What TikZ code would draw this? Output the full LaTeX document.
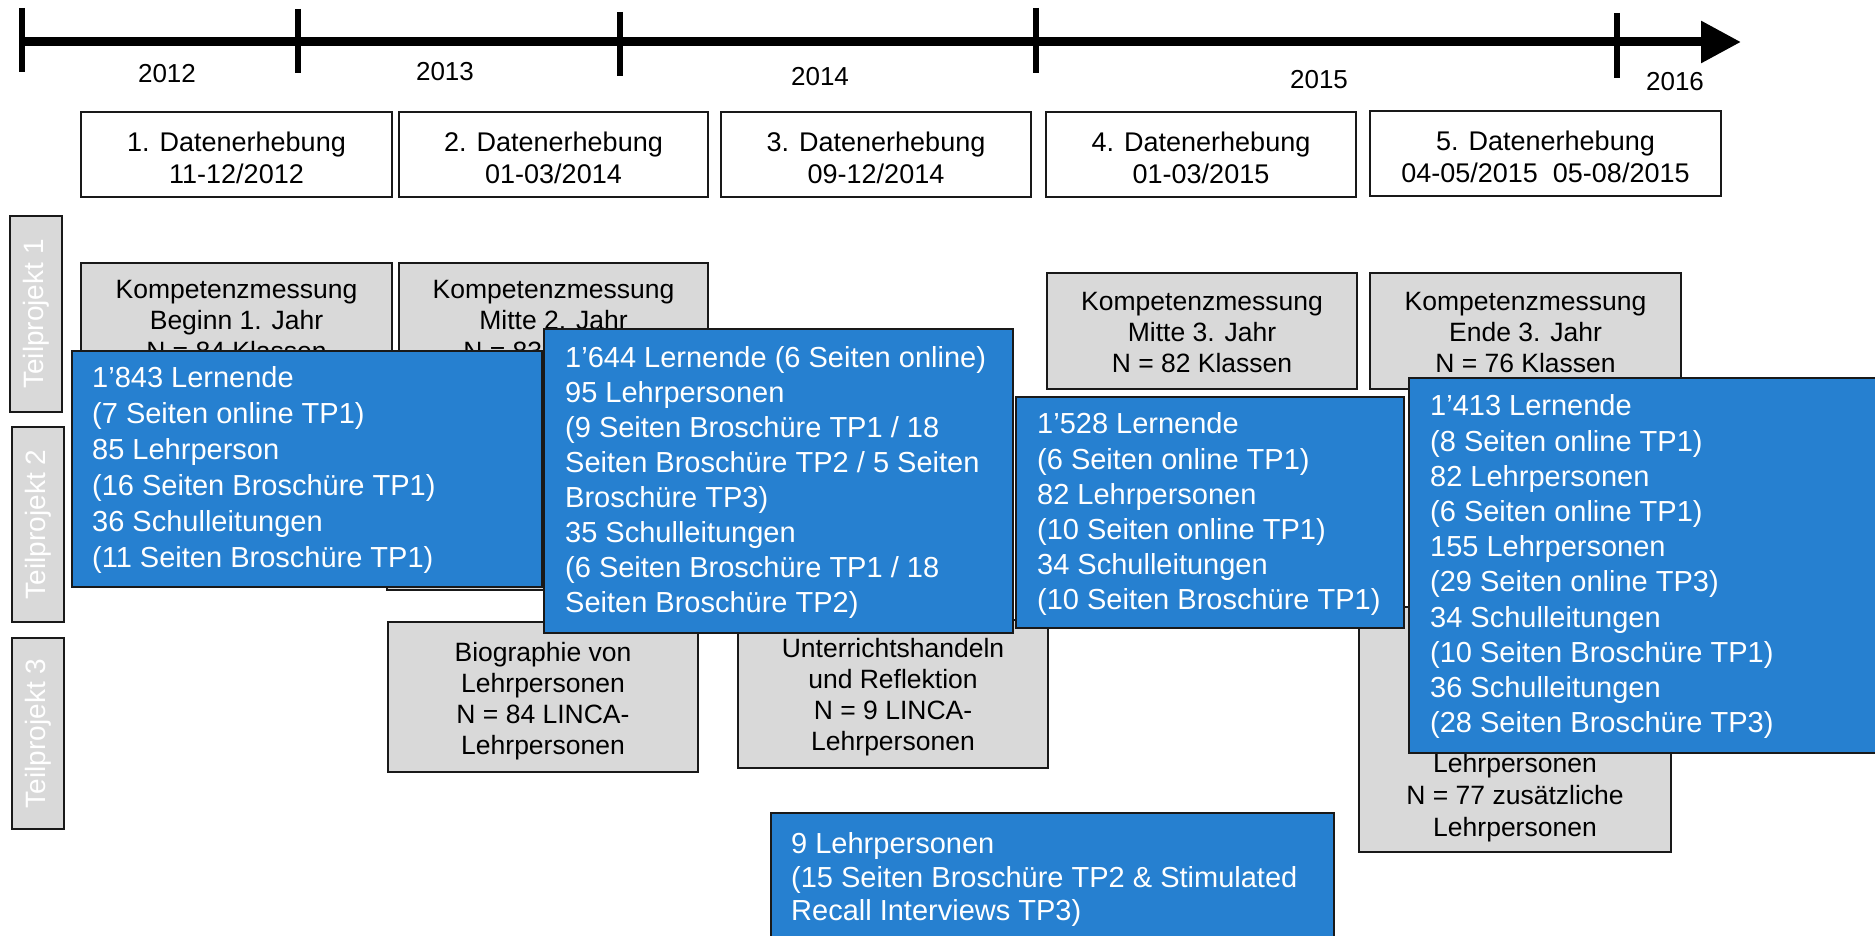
\documentclass[tikz,border=0pt]{standalone}
\usepackage{fontspec}
\setmainfont{Liberation Sans}
\usetikzlibrary{arrows.meta,fit}
\definecolor{boxblue}{RGB}{38,128,208}
\definecolor{boxgrey}{RGB}{217,217,217}
\definecolor{edgecol}{RGB}{25,25,25}
\begin{document}
\begin{tikzpicture}[x=1pt,y=-1pt,
  debox/.style={draw=edgecol, line width=2pt, fill=white, inner sep=0pt},
  greybox/.style={draw=edgecol, line width=2pt, fill=boxgrey, inner sep=0pt},
  tpbox/.style={draw=edgecol, line width=2.5pt, fill=boxgrey, inner sep=0pt},
  bluebox/.style={draw=edgecol, line width=2.5pt, fill=boxblue, inner sep=0pt},
  yeartxt/.style={font=\fontsize{26}{30}\selectfont, inner sep=0pt},
  detxt/.style={font=\fontsize{27}{32}\selectfont, align=center, inner sep=0pt, anchor=north},
  greytxt/.style={font=\fontsize{26.5}{31}\selectfont, align=center, inner sep=0pt, anchor=north},
  bluetxt/.style={font=\fontsize{29}{35}\selectfont, align=left, inner sep=0pt, anchor=north west, text=white},
  tptxt/.style={font=\fontsize{28}{32}\selectfont, inner sep=0pt, text=white, rotate=90},
  tick/.style={line width=6pt, draw=black}]
\useasboundingbox (0,0) rectangle (1875,936);
\clip (0,0) rectangle (1875,936);

% timeline
\coordinate (tl0) at (22,42);
\coordinate (tl1) at (1741,42);
\draw[line width=9pt, -{Triangle[length=40pt,width=40pt]}] (tl0) -- (tl1);
\draw[tick] (22,8) -- (22,72);
\draw[tick] (298,9) -- (298,73);
\draw[tick] (620,12) -- (620,76);
\draw[tick] (1036,8) -- (1036,73);
\draw[tick] (1617,13) -- (1617,78);

\node[yeartxt] (y2012) at (167,74) {2012};
\node[yeartxt] (y2013) at (445,72) {2013};
\node[yeartxt] (y2014) at (820,77) {2014};
\node[yeartxt] (y2015) at (1319,80) {2015};
\node[yeartxt] (y2016) at (1675,82) {2016};

% Datenerhebung boxes
\node[debox, fit={(81,112) (392,197)}] (de1) {};
\node[debox, fit={(399,112) (708,197)}] (de2) {};
\node[debox, fit={(721,112) (1031,197)}] (de3) {};
\node[debox, fit={(1046,112) (1356,197)}] (de4) {};
\node[debox, fit={(1370,111) (1721,196)}] (de5) {};
\node[detxt] (de1t) at (236.5,131.3) {1. Datenerhebung\\11-12/2012};
\node[detxt] (de2t) at (553.5,131.3) {2. Datenerhebung\\01-03/2014};
\node[detxt] (de3t) at (876,131.3) {3. Datenerhebung\\09-12/2014};
\node[detxt] (de4t) at (1201,131.3) {4. Datenerhebung\\01-03/2015};
\node[detxt] (de5t) at (1545.5,130.3) {5. Datenerhebung\\04-05/2015~ 05-08/2015};

% Teilprojekt labels
\node[tpbox, fit={(10,216) (62,412)}] (tp1) {};
\node[tpbox, fit={(12,427) (64,622)}] (tp2) {};
\node[tpbox, fit={(12,638) (64,829)}] (tp3) {};
\node[tptxt] (tp1t) at (tp1.center) {Teilprojekt 1};
\node[tptxt] (tp2t) at (tp2.center) {Teilprojekt 2};
\node[tptxt] (tp3t) at (tp3.center) {Teilprojekt 3};

% grey boxes
\node[greybox, fit={(81,263) (392,390)}] (k1) {};
\node[greybox, fit={(399,263) (708,390)}] (k2) {};
\node[greybox, fit={(387,400) (700,590)}] (hid) {};
\node[greybox, fit={(1047,273) (1357,389)}] (k4) {};
\node[greybox, fit={(1370,273) (1681,389)}] (k5) {};
\node[greybox, fit={(388,622) (698,772)}] (bio) {};
\node[greybox, fit={(738,620) (1048,768)}] (unt) {};
\node[greybox, fit={(1359,607) (1671,852)}] (lp5) {};

\node[greytxt] (k1t) at (236.5,280.5) {Kompetenzmessung\\Beginn 1. Jahr\\N = 84 Klassen};
\node[greytxt] (k2t) at (553.5,280.5) {Kompetenzmessung\\Mitte 2. Jahr\\N = 83 Klassen};
\node[greytxt] (k4t) at (1202,292.5) {Kompetenzmessung\\Mitte 3. Jahr\\N = 82 Klassen};
\node[greytxt] (k5t) at (1525.5,292.5) {Kompetenzmessung\\Ende 3. Jahr\\N = 76 Klassen};
\node[greytxt] (biot) at (543,642.5) {Biographie von\\Lehrpersonen\\N = 84 LINCA-\\Lehrpersonen};
\node[greytxt] (untt) at (893,638.5) {Unterrichtshandeln\\und Reflektion\\N = 9 LINCA-\\Lehrpersonen};
\node[greytxt, font=\fontsize{26.5}{32}\selectfont] (lp5t) at (1515,753.5) {Lehrpersonen\\N = 77 zusätzliche\\Lehrpersonen};

% blue boxes
\node[bluebox, fit={(72,351) (542,587)}] (b1) {};
\node[bluetxt, font=\fontsize{29}{36}\selectfont] (b1t) at (92,366.6) {1’843 Lernende\\(7 Seiten online TP1)\\85 Lehrperson\\(16 Seiten Broschüre TP1)\\36 Schulleitungen\\(11 Seiten Broschüre TP1)};

\node[bluebox, fit={(544,329) (1013,633)}] (b2) {};
\node[bluetxt] (b2t) at (565,346.6) {1’644 Lernende (6 Seiten online)\\95 Lehrpersonen\\(9 Seiten Broschüre TP1 / 18\\Seiten Broschüre TP2 / 5 Seiten\\Broschüre TP3)\\35 Schulleitungen\\(6 Seiten Broschüre TP1 / 18\\Seiten Broschüre TP2)};

\node[bluebox, fit={(1016,397) (1404,628)}] (b3) {};
\node[bluetxt, font=\fontsize{29}{35.2}\selectfont] (b3t) at (1037,412.6) {1’528 Lernende\\(6 Seiten online TP1)\\82 Lehrpersonen\\(10 Seiten online TP1)\\34 Schulleitungen\\(10 Seiten Broschüre TP1)};

\node[bluebox, fit={(1409,378) (1890,753)}] (b4) {};
\node[bluetxt, font=\fontsize{29}{35.2}\selectfont] (b4t) at (1430,394.6) {1’413 Lernende\\(8 Seiten online TP1)\\82 Lehrpersonen\\(6 Seiten online TP1)\\155 Lehrpersonen\\(29 Seiten online TP3)\\34 Schulleitungen\\(10 Seiten Broschüre TP1)\\36 Schulleitungen\\(28 Seiten Broschüre TP3)};

\node[bluebox, fit={(771,813) (1334,950)}] (b5) {};
\node[bluetxt, font=\fontsize{29}{33.5}\selectfont] (b5t) at (791,832.6) {9 Lehrpersonen\\(15 Seiten Broschüre TP2 \& Stimulated\\Recall Interviews TP3)};
\end{tikzpicture}
\end{document}
